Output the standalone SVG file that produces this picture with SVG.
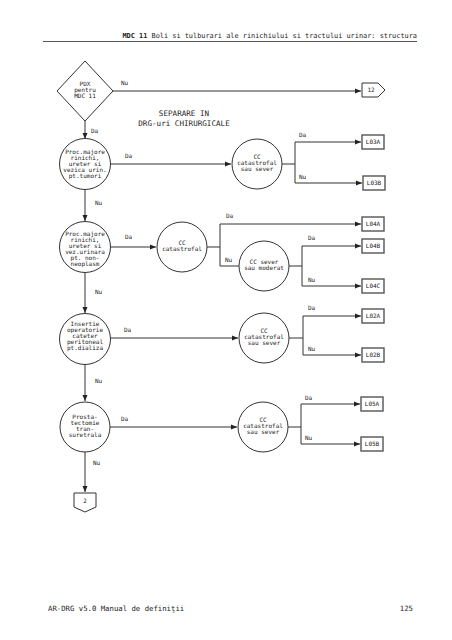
<svg xmlns="http://www.w3.org/2000/svg" width="452" height="640" viewBox="0 0 452 640">
<style>
text{font-family:"DejaVu Sans Mono","Liberation Mono",monospace;fill:#222}
.n{font-size:6px;text-anchor:middle}
.l{font-size:6px}
.shape{fill:#fff;stroke:#333;stroke-width:1}
.box{fill:#fff;stroke:#555;stroke-width:1.4}
.c{fill:none;stroke:#333;stroke-width:1}
.hd{font-size:6.9px}
</style>
<defs>
<marker id="a" viewBox="0 0 6 6" refX="6" refY="3" markerWidth="6" markerHeight="6" orient="auto" markerUnits="userSpaceOnUse">
<path d="M0,0.5 L6,3 L0,5.5 Z" fill="#222"/>
</marker>
</defs>
<rect width="452" height="640" fill="#fff"/>
<g id="header">
<text class="hd" x="417" y="38" text-anchor="end"><tspan font-weight="bold">MDC 11</tspan> Boli si tulburari ale rinichiului si tractului urinar: structura</text>
<line x1="43" y1="41.5" x2="417" y2="41.5" stroke="#555" stroke-width="1.2"/>
</g>
<g id="title">
<text x="184" y="116" font-size="7.6" text-anchor="middle">SEPARARE IN</text>
<text x="184" y="126" font-size="7.6" text-anchor="middle">DRG-uri CHIRURGICALE</text>
</g>
<g id="connectors">
<path class="c" d="M113,91 H361" marker-end="url(#a)"/>
<path class="c" d="M85,121 V139" marker-end="url(#a)"/>
<path class="c" d="M110,164 H231" marker-end="url(#a)"/>
<path class="c" d="M282,164 H295 M295,142 V183"/>
<path class="c" d="M295,142 H361" marker-end="url(#a)"/>
<path class="c" d="M295,183 H362" marker-end="url(#a)"/>
<path class="c" d="M85,189 V221" marker-end="url(#a)"/>
<path class="c" d="M110,247 H156" marker-end="url(#a)"/>
<path class="c" d="M207,247 H220 M220,224 V266 H239"/>
<path class="c" d="M220,224 H361" marker-end="url(#a)"/>
<path class="c" d="M289,266 H302 M302,246 V286"/>
<path class="c" d="M302,246 H361" marker-end="url(#a)"/>
<path class="c" d="M302,286 H361" marker-end="url(#a)"/>
<path class="c" d="M85,272 V313" marker-end="url(#a)"/>
<path class="c" d="M110,338 H238" marker-end="url(#a)"/>
<path class="c" d="M289,338 H303 M303,316 V355"/>
<path class="c" d="M303,316 H361" marker-end="url(#a)"/>
<path class="c" d="M303,355 H361" marker-end="url(#a)"/>
<path class="c" d="M85,364 V401" marker-end="url(#a)"/>
<path class="c" d="M110,427 H237" marker-end="url(#a)"/>
<path class="c" d="M288,427 H301 M301,404 V444"/>
<path class="c" d="M301,404 H360" marker-end="url(#a)"/>
<path class="c" d="M301,444 H360" marker-end="url(#a)"/>
<path class="c" d="M85,452 V492" marker-end="url(#a)"/>
</g>
<g id="labels">
<text class="l" x="121" y="85">Nu</text>
<text class="l" x="91" y="133">Da</text>
<text class="l" x="125" y="158">Da</text>
<text class="l" x="299" y="137">Da</text>
<text class="l" x="299" y="179">Nu</text>
<text class="l" x="95" y="205">Nu</text>
<text class="l" x="125" y="239">Da</text>
<text class="l" x="226" y="218">Da</text>
<text class="l" x="225" y="262">Nu</text>
<text class="l" x="308" y="240">Da</text>
<text class="l" x="308" y="282">Nu</text>
<text class="l" x="95" y="294">Nu</text>
<text class="l" x="124" y="332">Da</text>
<text class="l" x="308" y="310">Da</text>
<text class="l" x="308" y="351">Nu</text>
<text class="l" x="95" y="383">Nu</text>
<text class="l" x="121" y="421">Da</text>
<text class="l" x="305" y="400">Da</text>
<text class="l" x="305" y="440">Nu</text>
<text class="l" x="93" y="465">Nu</text>
</g>
<g id="pdx">
<path class="shape" d="M85,61 L113,91 L85,121 L57,91 Z"/>
<text class="n" x="85" y="86">PDX</text>
<text class="n" x="85" y="92">pentru</text>
<text class="n" x="85" y="98">MDC 11</text>
</g>
<g id="off12">
<path class="shape" d="M362,83 H378 L385,90 L378,97 H362 Z"/>
<text class="n" x="371" y="92">12</text>
</g>
<g id="proc1">
<circle class="shape" cx="85" cy="164" r="25.5"/>
<text class="n" x="85" y="154">Proc.majore</text>
<text class="n" x="85" y="160">rinichi,</text>
<text class="n" x="85" y="166">ureter si</text>
<text class="n" x="85" y="172">vezica urin.</text>
<text class="n" x="85" y="178">pt.tumori</text>
</g>
<g id="cc1">
<circle class="shape" cx="257" cy="164" r="25"/>
<text class="n" x="257" y="159">CC</text>
<text class="n" x="257" y="165">catastrofal</text>
<text class="n" x="257" y="171">sau sever</text>
</g>
<g id="L03A"><rect class="box" x="362" y="135" width="22" height="14"/><text class="n" x="373" y="144">L03A</text></g>
<g id="L03B"><rect class="box" x="363" y="176" width="22" height="14"/><text class="n" x="374" y="185">L03B</text></g>
<g id="proc2">
<circle class="shape" cx="85" cy="247" r="25.5"/>
<text class="n" x="85" y="236">Proc.majore</text>
<text class="n" x="85" y="242">rinichi,</text>
<text class="n" x="85" y="248">ureter si</text>
<text class="n" x="85" y="254">vez.urinara</text>
<text class="n" x="85" y="260">pt. non-</text>
<text class="n" x="85" y="266">neoplasm</text>
</g>
<g id="cc2">
<circle class="shape" cx="182" cy="247" r="25"/>
<text class="n" x="182" y="245">CC</text>
<text class="n" x="182" y="251">catastrofal</text>
</g>
<g id="L04A"><rect class="box" x="362" y="217" width="22" height="14"/><text class="n" x="373" y="226">L04A</text></g>
<g id="cc3">
<circle class="shape" cx="264" cy="266" r="25"/>
<text class="n" x="264" y="264">CC sever</text>
<text class="n" x="264" y="270">sau moderat</text>
</g>
<g id="L04B"><rect class="box" x="362" y="239" width="22" height="14"/><text class="n" x="373" y="248">L04B</text></g>
<g id="L04C"><rect class="box" x="362" y="279" width="22" height="14"/><text class="n" x="373" y="288">L04C</text></g>
<g id="insert">
<circle class="shape" cx="85" cy="339" r="25.5"/>
<text class="n" x="85" y="326">Insertie</text>
<text class="n" x="85" y="332">operatorie</text>
<text class="n" x="85" y="338">cateter</text>
<text class="n" x="85" y="344">peritoneal</text>
<text class="n" x="85" y="350">pt.dializa</text>
</g>
<g id="cc4">
<circle class="shape" cx="264" cy="338" r="25"/>
<text class="n" x="264" y="333">CC</text>
<text class="n" x="264" y="339">catastrofal</text>
<text class="n" x="264" y="345">sau sever</text>
</g>
<g id="L02A"><rect class="box" x="362" y="309" width="22" height="14"/><text class="n" x="373" y="318">L02A</text></g>
<g id="L02B"><rect class="box" x="362" y="348" width="22" height="14"/><text class="n" x="373" y="357">L02B</text></g>
<g id="prosta">
<circle class="shape" cx="85" cy="427" r="25"/>
<text class="n" x="85" y="419">Prosta-</text>
<text class="n" x="85" y="425">tectomie</text>
<text class="n" x="85" y="431">tran-</text>
<text class="n" x="85" y="437">suretrala</text>
</g>
<g id="cc5">
<circle class="shape" cx="263" cy="427" r="25"/>
<text class="n" x="263" y="422">CC</text>
<text class="n" x="263" y="428">catastrofal</text>
<text class="n" x="263" y="434">sau sever</text>
</g>
<g id="L05A"><rect class="box" x="361" y="397" width="22" height="14"/><text class="n" x="372" y="406">L05A</text></g>
<g id="L05B"><rect class="box" x="361" y="437" width="22" height="14"/><text class="n" x="372" y="446">L05B</text></g>
<g id="off2">
<path class="shape" d="M74,493 H96 V507 L85,512 L74,507 Z"/>
<text class="n" x="85" y="503">2</text>
</g>
<g id="footer">
<text x="48" y="611" font-size="7.3">AR-DRG v5.0 Manual de definiţii</text>
<text x="413" y="611" font-size="7.3" text-anchor="end">125</text>
</g>
</svg>
